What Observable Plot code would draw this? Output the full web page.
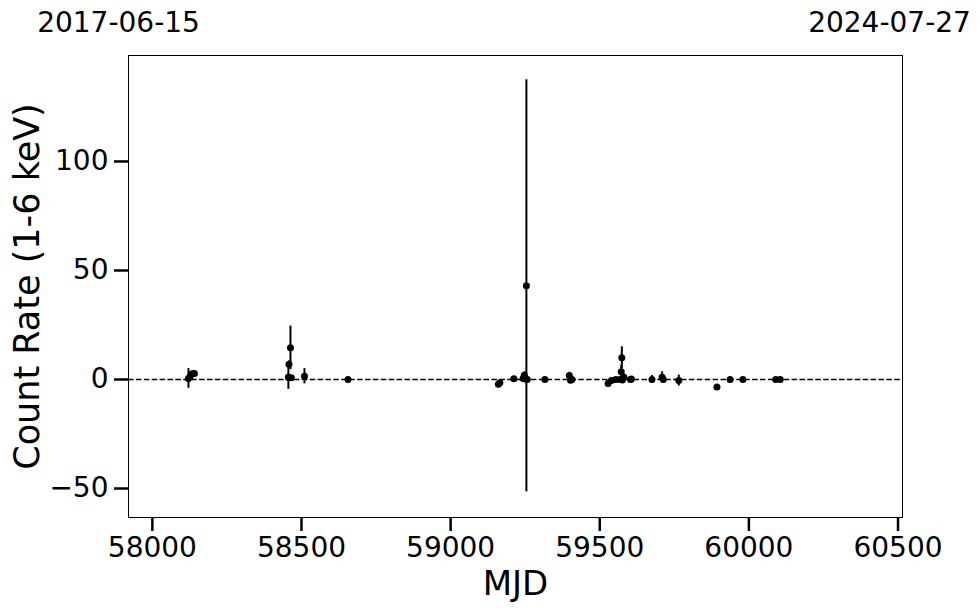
<!DOCTYPE html>
<html>
<head>
<meta charset="utf-8">
<script src="https://cdn.jsdelivr.net/npm/d3@7"></script>
<script src="https://cdn.jsdelivr.net/npm/@observablehq/plot@0.6"></script>
<style>
  html, body { margin: 0; padding: 0; background: white; }
  #chart { width: 980px; height: 613px; }
</style>
</head>
<body>
<div id="chart"></div>
<script>
// Observation epochs (MJD), count rates (1-6 keV) and 1-sigma errors
const mjd  = [58121, 58127, 58134, 58141, 58456, 58458, 58463, 58466, 58510, 58656,
              59160, 59165, 59212, 59243, 59247, 59251, 59254, 59257, 59316, 59398,
              59402, 59407, 59528, 59539, 59554, 59568, 59572, 59574, 59576, 59581,
              59603, 59606, 59675, 59709, 59713, 59765, 59893, 59937, 59980, 60090, 60105];
const rate = [0.5, 1.5, 2.6, 2.8, 1.0, 7.0, 14.5, 0.8, 1.5, 0.0,
              -2.2, -1.5, 0.3, 0.5, 2.0, 0.2, 43.0, 0.0, 0.0, 1.8,
              -0.3, 0.0, -1.8, -0.5, 0.0, 0.0, 3.5, 10.0, -0.2, 1.0,
              0.0, 0.2, 0.0, 1.0, 0.0, -0.5, -3.5, 0.0, 0.0, 0.0, 0.0];
const err  = [4.5, 1.2, 1.0, 0.8, 5.5, 1.5, 10.0, 0.8, 3.5, 0.6,
              1.3, 0.8, 0.6, 0.8, 1.5, 1.0, 94.5, 0.8, 0.6, 1.5,
              0.8, 0.6, 1.0, 0.6, 0.5, 0.8, 3.0, 5.0, 0.8, 1.5,
              0.6, 0.6, 1.8, 2.5, 1.0, 2.5, 0.8, 0.8, 0.5, 0.5, 0.5];

const xTicks = [58000, 58500, 59000, 59500, 60000, 60500];
const yTicks = [-50, 0, 50, 100];
const topLabels = ["2017-06-15", "2024-07-27"];
const xLabel = "MJD";
const yLabel = "Count Rate (1-6 keV)";

const data = mjd.map((m, i) => ({mjd: m, rate: rate[i], err: err[i]}));

const chart = Plot.plot({
  width: 980,
  height: 613,
  marginLeft: 128,
  marginRight: 78,
  marginTop: 55,
  marginBottom: 96,
  style: {fontFamily: "DejaVu Sans", background: "white", color: "black", overflow: "visible"},
  x: {domain: [57920, 60515]},
  y: {domain: [-63.3, 148.6]},
  marks: [
    Plot.ruleY([0], {stroke: "black", strokeWidth: 1.6, strokeDasharray: "5.5,2.4"}),
    Plot.ruleX(data, {x: "mjd", y1: d => d.rate - d.err, y2: d => d.rate + d.err, stroke: "black", strokeWidth: 2}),
    Plot.dot(data, {x: "mjd", y: "rate", r: 3.5, fill: "black", stroke: "none"}),
    Plot.frame({stroke: "black", strokeWidth: 1}),
    Plot.axisX({ticks: xTicks, tickSize: 14, tickPadding: 6, strokeWidth: 2.5, fontSize: 28, label: null, tickFormat: d => String(d)}),
    Plot.axisY({ticks: yTicks, tickSize: 14, tickPadding: 6, strokeWidth: 2.5, fontSize: 28, label: null, tickFormat: d => (d < 0 ? "\u2212" + Math.abs(d) : String(d))}),
    Plot.text([xLabel], {frameAnchor: "bottom", text: d => d, dy: 67, lineAnchor: "middle", fontSize: 34, fill: "black"}),
    Plot.text([yLabel], {frameAnchor: "left", text: d => d, dx: -101, rotate: -90, textAnchor: "middle", lineAnchor: "middle", fontSize: 35, fill: "black"}),
    Plot.text([topLabels[0]], {frameAnchor: "top-left", text: d => d, dx: -10, dy: -32, textAnchor: "middle", lineAnchor: "middle", fontSize: 28, fill: "black"}),
    Plot.text([topLabels[1]], {frameAnchor: "top-right", text: d => d, dx: -13, dy: -32, textAnchor: "middle", lineAnchor: "middle", fontSize: 28, fill: "black"})
  ]
});
document.getElementById("chart").appendChild(chart);
</script>
</body>
</html>
